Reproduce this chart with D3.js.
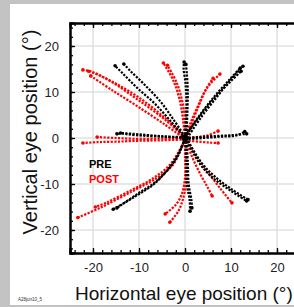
<!DOCTYPE html>
<html>
<head>
<meta charset="utf-8">
<script src="https://cdn.jsdelivr.net/npm/d3@7"></script>
<style>
  body { margin: 0; background: #c3c3c3; }
  svg { display: block; font-family: "Liberation Sans", Arial, sans-serif; }
</style>
</head>
<body>
<svg id="chart" width="294" height="307"></svg>
<script>
// eye traces, [horizontal, vertical] in degrees
var preTraces = [
  [[0,0],[0.2,4],[0.3,8],[0.1,12],[-0.3,15],[-0.2,16.5]],
  [[0.3,0],[0.5,5],[0.6,10],[0.4,14],[0.2,16]],
  [[0,0],[2.5,4],[6.1,8.7],[9.5,12.5],[12,15.2]],
  [[0.5,0],[3.5,4.5],[7,9],[10,12.8],[12.6,15.6]],
  [[0,0.5],[3,4.5],[6.5,8.8],[9.8,12.2],[12.2,14.5]],
  [[0,0],[3,0.2],[6.1,0.4],[10,0.6],[13.4,0.9]],
  [[0,-0.3],[4,0],[8,0.3],[11,0.5],[13,1.4]],
  [[0,0],[-5.4,0.4],[-10,0.8],[-13,1],[-14.8,0.9]],
  [[0,0.2],[-4,0.3],[-9,0.5],[-12.5,0.8],[-14,1.1]],
  [[0,0],[-3,3.5],[-6.6,7.5],[-10.4,10.9],[-13.5,14],[-15.2,15.7]],
  [[0,0.3],[-2.5,4],[-5.4,8],[-9,11.8],[-11.8,14.5],[-13.3,16.1]],
  [[0,0],[-1.8,-4.3],[-6.1,-9.3],[-10.4,-12.2],[-14.8,-15.2]],
  [[0,-0.3],[-2.2,-4.8],[-6.5,-9.8],[-11,-12.8],[-15.6,-15.5]],
  [[0,0],[0.3,-5],[0.4,-10],[1,-13.5],[1.1,-15.9]],
  [[0.3,0],[0.6,-5],[0.8,-10],[1.4,-13.5],[1.5,-15.2]],
  [[0,0],[3.3,-5.7],[6.1,-8.7],[10,-11.5],[13.4,-13.7]],
  [[0.3,0],[3.6,-5.4],[6.5,-8.4],[10.2,-11.2],[13.7,-13.4]]
];
var postTraces = [
  [[0,0],[-0.4,3.7],[-1.1,8],[-2.5,12.4],[-4.7,16.3]],
  [[0.2,0],[0,4],[-0.6,8],[-1.8,12],[-3.8,15.8]],
  [[0,0],[1.1,3],[2.6,6.5],[4.8,10.9],[7.6,13.9]],
  [[0.3,0],[1.5,3.3],[3,7],[4.5,10.5],[6.1,13]],
  [[0,0],[2.5,0.2],[5,0.6],[7.2,1.5]],
  [[0,-0.5],[3,-0.8],[5.5,-1],[7.2,-1.1]],
  [[0,-0.3],[-5,-0.5],[-10,-0.6],[-15,-0.8],[-19,-0.9],[-22.2,-1.1]],
  [[0,0],[-5,-0.1],[-10,-0.2],[-15,0],[-19.1,0.2]],
  [[0,0],[-4,3.7],[-9.8,8],[-16.3,12.4],[-20.5,14.5],[-22.2,14.8]],
  [[0,0.3],[-4.5,4.5],[-10,8.8],[-15,11.8],[-19,13.8],[-21,14.5]],
  [[0,-0.2],[-4.5,3],[-10.5,7],[-16,10.5],[-20.5,13.5]],
  [[0,0],[-2.5,-5.7],[-6.1,-8.7],[-11.3,-11.5],[-18.5,-15.2],[-23.3,-17.3]],
  [[0,-0.3],[-3,-5.5],[-7,-8.8],[-12,-11.5],[-17,-14],[-19.5,-15]],
  [[0,0],[0,-4],[0,-8.7],[-0.7,-12.2],[-2,-14.5],[-4.3,-16.5]],
  [[0.2,0],[0.3,-5],[0.2,-10],[-0.5,-13.5],[-1.5,-16],[-3.3,-18.3]],
  [[0,0],[1.5,-4],[3.3,-7.8],[4.8,-10.5],[5.9,-12.6]],
  [[0.3,0],[2.5,-4],[5,-7.5],[7.6,-10.9],[10.2,-14.1]]
];
var majorTicks = [-20, -10, 0, 10, 20];
var minorTicks = d3.range(-24, 25, 2);
var legendLabels = ["PRE", "POST"];
var legendColors = ["#000000", "#ff0000"];

var svg = d3.select("#chart");

svg.append("rect").attr("x", 10).attr("y", 4).attr("width", 290).attr("height", 301).attr("fill", "#fff");

var x = d3.scaleLinear().domain([-25, 25]).range([70, 300]);
var y = d3.scaleLinear().domain([-25, 25]).range([253, 23]);

// grid
svg.append("g").selectAll("line").data(majorTicks).enter().append("line")
    .attr("x1", function(d){return x(d)}).attr("x2", function(d){return x(d)})
    .attr("y1", y(25)).attr("y2", y(-25))
    .attr("stroke", "#e0e0e0").attr("stroke-width", 1.5);
svg.append("g").selectAll("line").data(majorTicks).enter().append("line")
    .attr("y1", function(d){return y(d)}).attr("y2", function(d){return y(d)})
    .attr("x1", x(-25)).attr("x2", x(25))
    .attr("stroke", "#e0e0e0").attr("stroke-width", 1.5);

// traces
var line = d3.line()
    .x(function(d){return x(d[0])})
    .y(function(d){return y(d[1])})
    .curve(d3.curveCatmullRom);

function drawTraces(data, color) {
    svg.append("g").selectAll("path").data(data).enter().append("path")
        .attr("d", line)
        .attr("fill", "none")
        .attr("stroke", color)
        .attr("stroke-width", 2.2)
        .attr("stroke-dasharray", "2.2,1.4");
    svg.append("g").selectAll("circle").data(data).enter().append("circle")
        .attr("cx", function(d){return x(d[d.length-1][0])})
        .attr("cy", function(d){return y(d[d.length-1][1])})
        .attr("r", 1.8)
        .attr("fill", color);
}
drawTraces(postTraces, "#ff0000");
drawTraces(preTraces, "#000000");

svg.append("circle").attr("cx", x(0)).attr("cy", y(0)).attr("r", 3.5).attr("fill", "#000");

// axes with inward ticks
function minor(axis) {
    return function(g) { g.call(axis.tickValues(minorTicks).tickSize(-3).tickFormat("")); g.selectAll("text").remove(); };
}
var fmt = function(d){return String(d)};

svg.append("g").attr("transform", "translate(" + x(-25) + ",0)")
    .call(minor(d3.axisLeft(y)));
svg.append("g").attr("class", "major").attr("transform", "translate(" + x(-25) + ",0)")
    .call(d3.axisLeft(y).tickValues(majorTicks).tickSize(-5).tickPadding(11).tickFormat(fmt));

svg.append("g").attr("transform", "translate(0," + y(-25) + ")")
    .call(minor(d3.axisBottom(x)));
svg.append("g").attr("class", "major").attr("transform", "translate(0," + y(-25) + ")")
    .call(d3.axisBottom(x).tickValues(majorTicks).tickSize(-5).tickPadding(10).tickFormat(fmt));

svg.append("g").attr("transform", "translate(0," + y(25) + ")")
    .call(minor(d3.axisTop(x)));
var gT = svg.append("g").attr("transform", "translate(0," + y(25) + ")")
    .call(d3.axisTop(x).tickValues(majorTicks).tickSize(-5).tickFormat(""));
gT.selectAll("text").remove();

svg.selectAll(".domain").attr("stroke", "#000").attr("stroke-width", 2);
svg.selectAll(".tick line").attr("stroke", "#000").attr("stroke-width", 1.3);
svg.selectAll(".major .tick text")
    .attr("font-size", 13)
    .attr("fill", "#222")
    .style("font-family", "'Liberation Sans', Arial, sans-serif");

// titles
svg.append("text")
    .attr("transform", "translate(37," + y(1.3) + ") rotate(-90)")
    .attr("text-anchor", "middle")
    .attr("font-size", 20)
    .attr("fill", "#111")
    .text("Vertical eye position (\u00b0)");
svg.append("text")
    .attr("x", 75).attr("y", 300)
    .attr("font-size", 19)
    .attr("fill", "#111")
    .text("Horizontal eye position (\u00b0)");
svg.append("text")
    .attr("x", 18).attr("y", 301)
    .attr("font-size", 4.5)
    .attr("fill", "#333")
    .text("A28jun10_5");

// legend
svg.append("g").selectAll("text").data(legendLabels).enter().append("text")
    .attr("x", 89)
    .attr("y", function(d, i){return 168 + i*15})
    .attr("font-size", 11)
    .attr("font-weight", "bold")
    .attr("fill", function(d, i){return legendColors[i]})
    .text(function(d){return d});
</script>
</body>
</html>
